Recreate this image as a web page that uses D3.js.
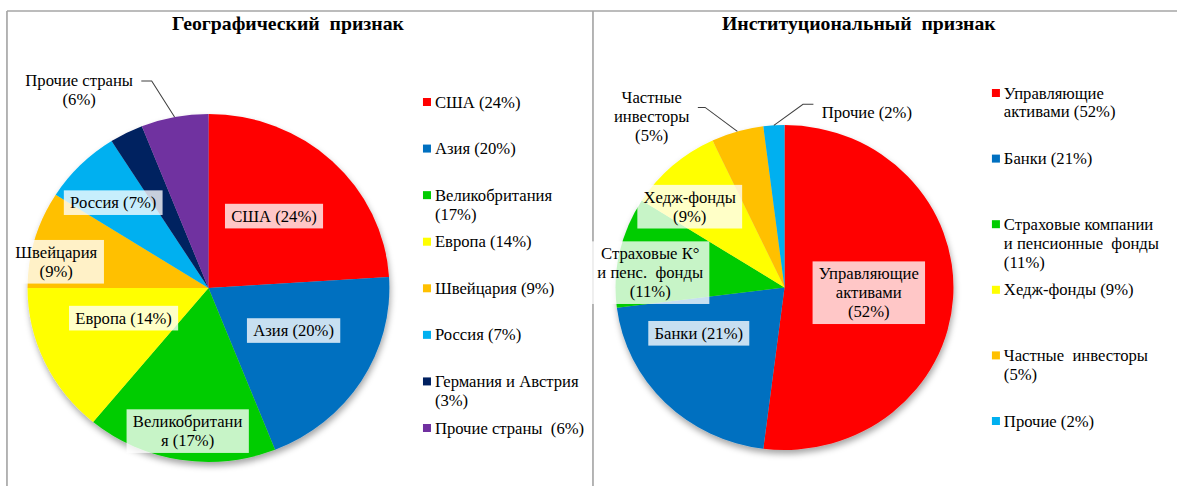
<html>
<head>
  <meta charset="utf-8">
  <title>Географический и институциональный признак</title>
  <style>
    html, body { margin: 0; padding: 0; background: #fff; }
    svg { display: block; }
  </style>
  <script src="https://d3js.org/d3.v7.min.js" charset="utf-8"></script>
</head>
<body>
<script>
  // ---- data: географический признак ----
  var geoNames = ["США", "Азия", "Великобритания", "Европа", "Швейцария", "Россия", "Германия и Австрия", "Прочие страны"];
  var geoValues = [24, 20, 17, 14, 9, 7, 3, 6];
  var geoColors = ["#FF0000", "#0070C0", "#00CC00", "#FFFF00", "#FFC000", "#00B0F0", "#002060", "#7030A0"];
  var geoLegend = ["США (24%)", "Азия (20%)", "Великобритания\n(17%)", "Европа (14%)", "Швейцария (9%)",
                   "Россия (7%)", "Германия и Австрия\n(3%)", "Прочие страны  (6%)"];
  var geoSliceLabels = ["США (24%)", "Азия (20%)", "Великобритани\nя (17%)", "Европа (14%)", "Швейцария\n(9%)",
                        "Россия (7%)", "", "Прочие страны\n(6%)"];

  // ---- data: институциональный признак ----
  var instNames = ["Управляющие активами", "Банки", "Страховые компании и пенсионные фонды", "Хедж-фонды", "Частные инвесторы", "Прочие"];
  var instValues = [52, 21, 11, 9, 5, 2];
  var instColors = ["#FF0000", "#0070C0", "#00CC00", "#FFFF00", "#FFC000", "#00B0F0"];
  var instLegend = ["Управляющие\nактивами (52%)", "Банки (21%)", "Страховые компании\nи пенсионные  фонды\n(11%)",
                    "Хедж-фонды (9%)", "Частные  инвесторы\n(5%)", "Прочие (2%)"];
  var instSliceLabels = ["Управляющие\nактивами\n(52%)", "Банки (21%)", "Страховые К°\nи пенс.  фонды\n(11%)",
                         "Хедж-фонды\n(9%)", "Частные\nинвесторы\n(5%)", "Прочие (2%)"];

  // label placement: [radius fraction, angle nudge in degrees], "out" = leader line, null = none
  var geoLabelPos = [[0.55, -2], [0.53, -5], [0.83, -1], [0.5, 5], [0.855, -6], [0.72, -2], null, "out"];
  var instLabelPos = [[0.5, 0], [0.58, 16], [0.8, -6], [0.75, -7], "out", "out"];
  // leader lines: elbow offset from slice edge, horizontal run, first text line offset
  var geoLeaders = { 7: { dx: -22, dy: -36, hx: -10, ty: -1 } };
  var instLeaders = { 4: { dx: -31, dy: -24, hx: -7, ty: -10 }, 5: { dx: 28, dy: -21, hx: 10, ty: 8 } };

  var W = 1177, H = 486;
  var VW = 1132; // picture is slightly stretched horizontally
  var lineH = 19;
  var FONT = "Liberation Serif";

  var svg = d3.select("body").append("svg")
    .attr("width", W)
    .attr("height", H)
    .attr("viewBox", "0 0 " + VW + " " + H)
    .attr("preserveAspectRatio", "none");

  var defs = svg.append("defs");
  defs.append("filter")
    .attr("id", "shadow")
    .attr("x", "-20%").attr("y", "-20%").attr("width", "140%").attr("height", "140%")
    .append("feDropShadow")
    .attr("dx", 1).attr("dy", 4)
    .attr("stdDeviation", 3)
    .attr("flood-color", "#000")
    .attr("flood-opacity", 0.35);

  // frame
  var frame = svg.append("g").attr("stroke", "#A6A6A6").attr("stroke-width", 1.6);
  frame.append("line").attr("x1", 6.7).attr("x2", VW).attr("y1", 11).attr("y2", 11);
  frame.append("line").attr("x1", 6.7).attr("x2", 6.7).attr("y1", 11).attr("y2", H);
  frame.append("line").attr("x1", 570.3).attr("x2", 570.3).attr("y1", 11).attr("y2", H);

  function txt(parent, size) {
    return parent.append("text")
      .style("font-family", FONT)
      .style("white-space", "pre")
      .attr("font-size", size)
      .attr("fill", "#000");
  }

  // one <text> per line, centred on y0 + i*lineH
  function multiline(parent, str, x, y0, anchor) {
    var g = parent.append("g");
    str.split("\n").forEach(function (s, i) {
      txt(g, 16)
        .attr("x", x)
        .attr("y", y0 + i * lineH + 5.5)
        .attr("text-anchor", anchor || "start")
        .text(s);
    });
    return g;
  }

  function drawPie(cfg) {
    var g = svg.append("g");

    txt(g, 19)
      .attr("x", cfg.titleX)
      .attr("y", 30)
      .attr("text-anchor", "middle")
      .attr("font-weight", "bold")
      .text(cfg.title);

    var pie = d3.pie().sort(null).value(function (d) { return d; });
    var arcs = pie(cfg.values);
    var arc = d3.arc().innerRadius(0).outerRadius(cfg.r);

    var pg = g.append("g")
      .attr("transform", "translate(" + cfg.cx + "," + cfg.cy + ")");

    pg.append("g")
      .attr("filter", "url(#shadow)")
      .selectAll("path")
      .data(arcs)
      .enter()
      .append("path")
      .attr("fill", function (d, i) { return cfg.colors[i]; })
      .attr("d", arc);

    function polar(a, f) {
      return [f * cfg.r * Math.sin(a), -f * cfg.r * Math.cos(a)];
    }

    arcs.forEach(function (d, i) {
      var pos = cfg.labelPos[i];
      var label = cfg.sliceLabels[i];
      if (!pos || !label) return;
      var mid = (d.startAngle + d.endAngle) / 2;
      var n = label.split("\n").length;

      if (pos === "out") {
        var ld = cfg.leaders[i];
        var e = polar(mid, 1);
        var elbow = [e[0] + ld.dx, e[1] + ld.dy];
        var end = [elbow[0] + ld.hx, elbow[1]];
        pg.append("path")
          .attr("d", d3.line()([e, elbow, end]))
          .attr("fill", "none")
          .attr("stroke", "#404040")
          .attr("stroke-width", 1);
        var tg = multiline(pg, label, 0, end[1] + ld.ty, "middle");
        var bw = tg.node().getBBox().width;
        var tx = ld.hx < 0 ? end[0] - 8 - bw / 2 : end[0] + 8 + bw / 2;
        tg.selectAll("text").attr("x", tx);
        return;
      }

      var p = polar(mid + pos[1] * Math.PI / 180, pos[0]);
      var lg = pg.append("g");
      var box = lg.append("rect");
      var tg = multiline(lg, label, p[0], p[1] - (n - 1) * lineH / 2, "middle");
      var bb = tg.node().getBBox();
      box.attr("x", bb.x - 6)
        .attr("y", bb.y - 3)
        .attr("width", bb.width + 12)
        .attr("height", bb.height + 6)
        .attr("fill", "#fff")
        .attr("fill-opacity", 0.78);
    });

    // legend
    var ly = d3.scalePoint()
      .domain(d3.range(cfg.legend.length))
      .range(cfg.legendY);

    var leg = g.append("g").selectAll("g")
      .data(cfg.legend)
      .enter()
      .append("g")
      .attr("transform", function (d, i) { return "translate(" + cfg.legendX + "," + ly(i) + ")"; });

    leg.append("rect")
      .attr("x", 0)
      .attr("y", -4)
      .attr("width", 7.7)
      .attr("height", 8)
      .attr("fill", function (d, i) { return cfg.colors[i]; });

    leg.each(function (d) {
      multiline(d3.select(this), d, 11.5, 0, "start");
    });
  }

  drawPie({
    title: "Географический  признак",
    titleX: 277,
    cx: 200.5, cy: 288, r: 174,
    values: geoValues,
    colors: geoColors,
    sliceLabels: geoSliceLabels,
    labelPos: geoLabelPos,
    leaders: geoLeaders,
    legend: geoLegend,
    legendX: 406.8,
    legendY: [102, 428]
  });

  drawPie({
    title: "Институциональный  признак",
    titleX: 826,
    cx: 754.5, cy: 287.5, r: 162.5,
    values: instValues,
    colors: instColors,
    sliceLabels: instSliceLabels,
    labelPos: instLabelPos,
    leaders: instLeaders,
    legend: instLegend,
    legendX: 954,
    legendY: [93, 421]
  });
</script>
</body>
</html>
